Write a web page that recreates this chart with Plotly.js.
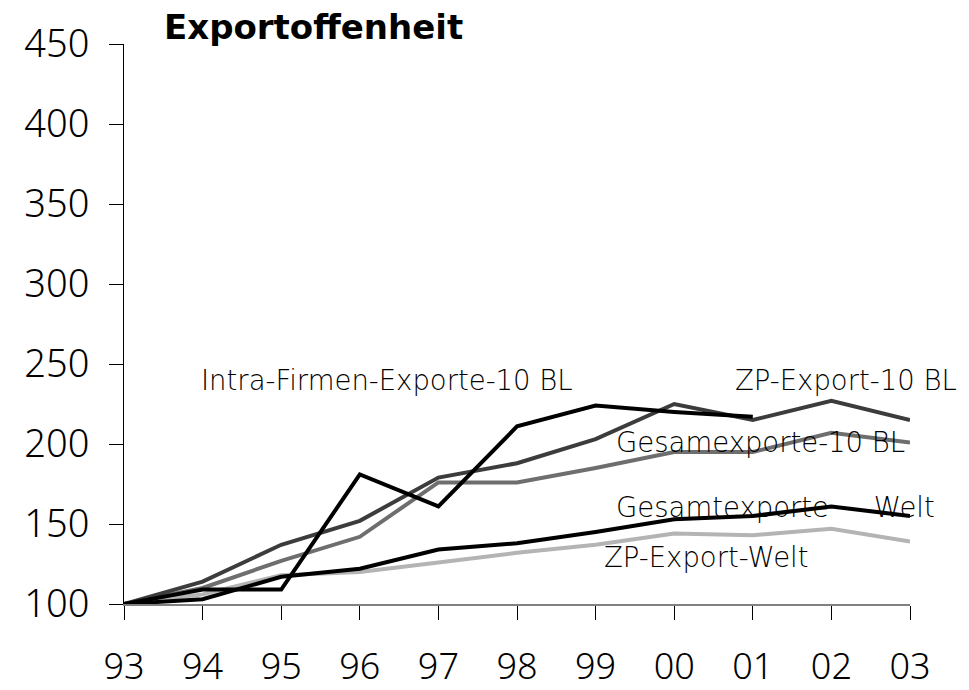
<!DOCTYPE html>
<html>
<head>
<meta charset="utf-8">
<script src="https://cdn.plot.ly/plotly-3.0.1.min.js"></script>
<style>html,body{margin:0;padding:0;background:#fff}#chart{width:969px;height:690px}</style>
</head>
<body>
<div id="chart"></div>
<script>
const years = ["93","94","95","96","97","98","99","00","01","02","03"];
const intraFirmen10BL = [100,109,109,181,161,211,224,220,217,null,null];
const zpExport10BL = [100,114,137,152,179,188,203,225,215,227,215];
const gesamt10BL = [100,110,127,142,176,176,185,195,195,207,201];
const gesamtWelt = [100,103,117,122,134,138,145,153,155,161,155];
const zpExportWelt = [100,106,118,120,126,132,137,144,143,147,139];
const yTicks = [100,150,200,250,300,350,400,450];

const font = "Noto Sans, Open Sans, sans-serif";
const afont = "DejaVu Sans, sans-serif";
function tr(y, color, width) {
  return {x: years, y: y, type: "scatter", mode: "lines",
    line: {color: color, width: width}, hoverinfo: "skip", connectgaps: false};
}
const data = [
  tr(zpExportWelt, "#b4b4b4", 4),
  tr(gesamt10BL, "#6e6e6e", 4),
  tr(zpExport10BL, "#3c3c3c", 4),
  tr(gesamtWelt, "#000000", 4),
  tr(intraFirmen10BL, "#000000", 4)
];
function ann(text, x, y) {
  return {text: text, xref: "paper", yref: "paper", x: x, y: y, xanchor: "left", yanchor: "middle",
    showarrow: false, font: {family: afont, size: 27.5, color: "#000", weight: 300}};
}
// paper coords: plot area x 124..910 (786px), y 44..604 (560px)
const px = v => (v - 124) / 786;
const py = v => (604 - v) / 560;
const layout = {
  width: 969, height: 690,
  margin: {l: 124, r: 59, t: 44, b: 86},
  paper_bgcolor: "#fff", plot_bgcolor: "#fff",
  showlegend: false,
  title: {text: "<b>Exportoffenheit</b>", font: {family: afont, size: 34, color: "#000"},
    xref: "paper", yref: "container", x: px(164), xanchor: "left", y: 1 - 27/690, yanchor: "middle"},
  xaxis: {type: "category", range: [0, 10], showgrid: false, zeroline: false,
    showline: true, linecolor: "#808080", linewidth: 1.5,
    ticks: "outside", ticklen: 14, tickcolor: "#000", tickwidth: 1,
    tickfont: {family: font, size: 36, color: "#000", weight: 300}, ticklabelstandoff: 16},
  yaxis: {range: [100, 450], tickvals: yTicks, ticktext: yTicks.map(String),
    showgrid: false, zeroline: false, showline: true, linecolor: "#000", linewidth: 1,
    ticks: "outside", ticklen: 14, tickcolor: "#000", tickwidth: 1,
    tickfont: {family: font, size: 38, color: "#000", weight: 300}, ticklabelstandoff: 12},
  annotations: [
    ann("Intra-Firmen-Exporte-10 BL", px(199), py(380)),
    ann("ZP-Export-10 BL", px(733), py(380)),
    ann("Gesamexporte-10 BL", px(614), py(442)),
    ann("Gesamtexporte&nbsp; -&nbsp; Welt", px(614), py(507)),
    ann("ZP-Export-Welt", px(602), py(557))
  ]
};
Plotly.newPlot("chart", data, layout, {staticPlot: true, displayModeBar: false});
</script>
</body>
</html>
